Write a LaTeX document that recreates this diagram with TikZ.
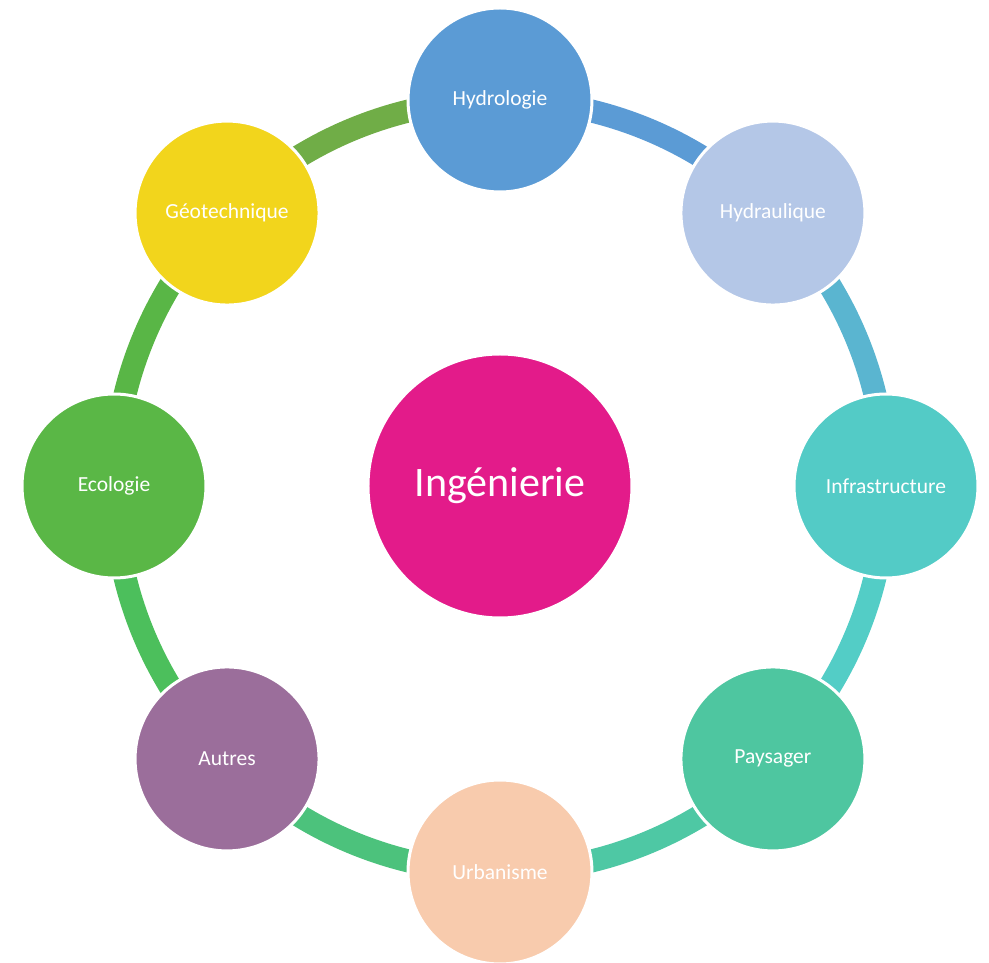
\documentclass[tikz,border=0pt]{standalone}
\usepackage{fontspec}
\setmainfont{Carlito}
\definecolor{cHydrologie}{HTML}{5B9BD5}
\definecolor{cHydraulique}{HTML}{B4C7E7}
\definecolor{cInfra}{HTML}{53CBC6}
\definecolor{cPaysager}{HTML}{4EC6A0}
\definecolor{cUrba}{HTML}{F8CBAD}
\definecolor{cAutres}{HTML}{9B6E9B}
\definecolor{cEco}{HTML}{5AB746}
\definecolor{cGeo}{HTML}{F2D51C}
\definecolor{cCenter}{HTML}{E31B8A}
\definecolor{aA}{HTML}{5B9BD5}
\definecolor{aB}{HTML}{5AB5D0}
\definecolor{aC}{HTML}{53CDC6}
\definecolor{aD}{HTML}{4EC8A4}
\definecolor{aE}{HTML}{4CC27C}
\definecolor{aF}{HTML}{4CBF5C}
\definecolor{aG}{HTML}{59B646}
\definecolor{aH}{HTML}{70AD47}
\tikzset{
  topic/.style={circle, minimum size=184pt, inner sep=0pt, draw=white, line width=3pt, text=white, font=\fontsize{21.5}{24}\selectfont},
  hub/.style={circle, minimum size=264pt, inner sep=0pt, draw=white, line width=3pt, fill=cCenter, text=white, font=\fontsize{42}{48}\selectfont},
  ring/.style={line width=23pt}
}
\begin{document}
\begin{tikzpicture}[x=1pt,y=1pt]
\useasboundingbox (-500,-477) rectangle (489,486);
\coordinate (p1) at (90:386);
\coordinate (p2) at (45:386);
\coordinate (p3) at (0:386);
\coordinate (p4) at (-45:386);
\coordinate (p5) at (-90:386);
\coordinate (p6) at (-135:386);
\coordinate (p7) at (180:386);
\coordinate (p8) at (135:386);
\draw[ring, aA] (p1) arc[start angle=90, end angle=45, radius=386pt];
\draw[ring, aB] (p2) arc[start angle=45, end angle=0, radius=386pt];
\draw[ring, aC] (p3) arc[start angle=0, end angle=-45, radius=386pt];
\draw[ring, aD] (p4) arc[start angle=-45, end angle=-90, radius=386pt];
\draw[ring, aE] (p5) arc[start angle=-90, end angle=-135, radius=386pt];
\draw[ring, aF] (p6) arc[start angle=-135, end angle=-180, radius=386pt];
\draw[ring, aG] (p7) arc[start angle=180, end angle=135, radius=386pt];
\draw[ring, aH] (p8) arc[start angle=135, end angle=90, radius=386pt];
\node[hub] (center) at (0,0) {Ingénierie};
\node[topic, fill=cHydrologie] (hydrologie) at (p1) {Hydrologie};
\node[topic, fill=cHydraulique] (hydraulique) at (p2) {Hydraulique};
\node[topic, fill=cInfra] (infra) at (p3) {Infrastructure};
\node[topic, fill=cPaysager] (paysager) at (p4) {Paysager};
\node[topic, fill=cUrba] (urbanisme) at (p5) {Urbanisme};
\node[topic, fill=cAutres] (autres) at (p6) {Autres};
\node[topic, fill=cEco] (ecologie) at (p7) {Ecologie};
\node[topic, fill=cGeo] (geo) at (p8) {Géotechnique};
\end{tikzpicture}
\end{document}
